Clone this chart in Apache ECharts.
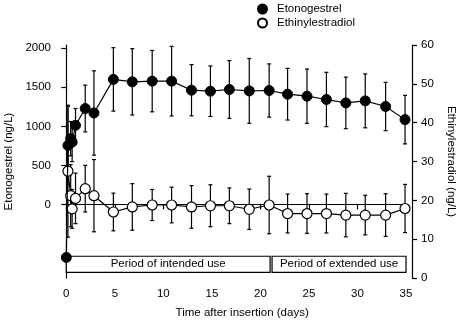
<!DOCTYPE html>
<html>
<head>
<meta charset="utf-8">
<script src="https://cdn.jsdelivr.net/npm/echarts@6/dist/echarts.min.js"></script>
<style>
html,body{margin:0;padding:0;background:#fff;}
#chart{width:460px;height:323px;}
</style>
</head>
<body>
<div id="chart"></div>
<script>
// ---- data ----
const etTime = [0, 0.17, 0.45, 0.6, 0.95, 1.95, 2.85, 4.85, 6.8, 8.85, 10.85, 12.9, 14.85, 16.8, 18.85, 20.9, 22.8, 24.8, 26.8, 28.8, 30.8, 32.9, 34.9];
const etMean = [-680, 755, 842, 798, 1013, 1228, 1171, 1601, 1570, 1579, 1579, 1463, 1450, 1472, 1454, 1459, 1412, 1386, 1344, 1300, 1326, 1254, 1086];
const etSD   = [0, 500, 220, 250, 215, 300, 540, 406, 425, 393, 446, 328, 323, 370, 415, 341, 331, 348, 348, 330, 345, 309, 311];

const eeTime = [0.17, 0.45, 0.6, 0.95, 1.95, 2.85, 4.85, 6.8, 8.85, 10.85, 12.9, 14.85, 16.8, 18.85, 20.9, 22.8, 24.8, 26.8, 28.8, 30.8, 32.9, 34.9];
const eeMean = [27.5, 21.2, 17.8, 20.5, 23.0, 21.2, 17.0, 18.3, 18.8, 18.8, 18.3, 18.6, 18.6, 17.7, 18.8, 16.6, 16.6, 16.6, 16.2, 16.2, 16.2, 17.9];
const eeSD   = [17, 8, 5, 6.5, 6, 9.3, 4.85, 6, 4, 4.6, 5.5, 5.4, 4.6, 5.2, 7.4, 5, 5.1, 5, 5.6, 5.1, 5.5, 6.2];

const xTicks = [0, 5, 10, 15, 20, 25, 30, 35];
const etTicks = [0, 500, 1000, 1500, 2000];
const eeTicks = [0, 10, 20, 30, 40, 50, 60];

const periodNames = ['Period of intended use', 'Period of extended use'];
const periodStart = [0, 21.2];
const periodEnd = [21, 35.05];
const periodBand = [1.45, 5.6]; // on the Ethinylestradiol axis

const seriesNames = ['Etonogestrel', 'Ethinylestradiol'];

// ---- build ----
const FONT = 'Liberation Sans, Arial, Helvetica, sans-serif';
const FS = 11.5;
const etLine = etTime.map((t, i) => [t, etMean[i]]);
const eeLine = eeTime.map((t, i) => [t, eeMean[i]]);
const etErr = etTime.map((t, i) => [t, etMean[i] - etSD[i], etMean[i] + etSD[i]]).filter((d, i) => etSD[i] > 0);
const eeErr = eeTime.map((t, i) => [t, eeMean[i] - eeSD[i], eeMean[i] + eeSD[i]]);

function errRender(params, api) {
  const x = api.value(0);
  const lo = api.coord([x, api.value(1)]);
  const hi = api.coord([x, api.value(2)]);
  const w = 2;
  const st = { stroke: '#000', lineWidth: 1.2 };
  return {
    type: 'group',
    children: [
      { type: 'line', shape: { x1: lo[0], y1: lo[1], x2: hi[0], y2: hi[1] }, style: st },
      { type: 'line', shape: { x1: lo[0] - w, y1: lo[1], x2: lo[0] + w, y2: lo[1] }, style: st },
      { type: 'line', shape: { x1: hi[0] - w, y1: hi[1], x2: hi[0] + w, y2: hi[1] }, style: st }
    ]
  };
}

const plain = v => String(v);
const axisCommon = {
  axisLine: { show: true, lineStyle: { color: '#000', width: 1.2 } },
  axisTick: { show: true, inside: false, length: 5, lineStyle: { color: '#000', width: 1.2 } },
  splitLine: { show: false },
  axisLabel: { color: '#000', fontSize: FS, fontFamily: FONT, formatter: plain },
  nameTextStyle: { color: '#000', fontSize: FS, fontFamily: FONT }
};

const chart = echarts.init(document.getElementById('chart'), null, { renderer: 'canvas' });
chart.setOption({
  backgroundColor: '#fff',
  animation: false,
  textStyle: { fontFamily: FONT },
  legend: {
    data: seriesNames.map(n => ({ name: n, icon: 'circle' })),
    orient: 'vertical',
    left: 252,
    top: -2,
    itemWidth: 19,
    itemHeight: 9,
    itemGap: 2,
    textStyle: { color: '#000', fontSize: FS, fontFamily: FONT },
    selectedMode: false
  },
  grid: { left: 66.3, right: 54, top: 45, bottom: 45, containLabel: false, outerBoundsMode: 'none' },
  xAxis: Object.assign({}, axisCommon, {
    type: 'value',
    min: 0, max: 35, interval: 5,
    name: 'Time after insertion (days)',
    nameLocation: 'middle',
    nameGap: 29,
    axisLabel: Object.assign({}, axisCommon.axisLabel, { margin: 10, customValues: xTicks }),
    axisTick: Object.assign({}, axisCommon.axisTick, { customValues: xTicks }),
    nameTextStyle: Object.assign({}, axisCommon.nameTextStyle, { padding: [0, 0, 0, 12] })
  }),
  yAxis: [
    Object.assign({}, axisCommon, {
      type: 'value',
      position: 'left',
      offset: 6.3,
      min: -943, max: 2042,
      name: 'Etonogestrel (ng/L)',
      nameLocation: 'middle',
      nameGap: 45,
      axisLabel: Object.assign({}, axisCommon.axisLabel, { margin: 9, customValues: etTicks }),
      axisTick: Object.assign({}, axisCommon.axisTick, { customValues: etTicks })
    }),
    Object.assign({}, axisCommon, {
      type: 'value',
      position: 'right',
      offset: 6,
      min: 0, max: 60, interval: 10,
      name: 'Ethinylestradiol (ng/L)',
      nameLocation: 'middle',
      nameGap: 33,
      nameRotate: -90,
      axisLabel: Object.assign({}, axisCommon.axisLabel, { margin: 9, customValues: eeTicks }),
      axisTick: Object.assign({}, axisCommon.axisTick, { customValues: eeTicks })
    })
  ],
  series: [
    {
      type: 'custom', name: 'etErr', yAxisIndex: 0, z: 2,
      renderItem: errRender, data: etErr, encode: { x: 0, y: [1, 2] }, silent: true
    },
    {
      type: 'custom', name: 'eeErr', yAxisIndex: 1, z: 2,
      renderItem: errRender, data: eeErr, encode: { x: 0, y: [1, 2] }, silent: true
    },
    {
      type: 'line', name: seriesNames[1], yAxisIndex: 1, z: 4,
      data: eeLine,
      symbol: 'circle', symbolSize: 10, showSymbol: true,
      lineStyle: { color: '#000', width: 1.2 },
      itemStyle: { color: '#fff', borderColor: '#000', borderWidth: 1.2 },
      markArea: {
        silent: true,
        itemStyle: { color: '#fff', borderColor: '#000', borderWidth: 1.2, opacity: 1 },
        label: { show: true, position: 'inside', color: '#000', fontSize: FS, fontFamily: FONT },
        data: periodNames.map((n, i) => [
          { name: n, xAxis: periodStart[i], yAxis: periodBand[0] },
          { xAxis: periodEnd[i], yAxis: periodBand[1] }
        ])
      }
    },
    {
      type: 'line', name: seriesNames[0], yAxisIndex: 0, z: 5,
      data: etLine,
      symbol: 'circle', symbolSize: 10, showSymbol: true,
      lineStyle: { color: '#000', width: 1.2 },
      itemStyle: { color: '#000', borderColor: '#000', borderWidth: 1 }
    }
  ]
});
</script>
</body>
</html>
